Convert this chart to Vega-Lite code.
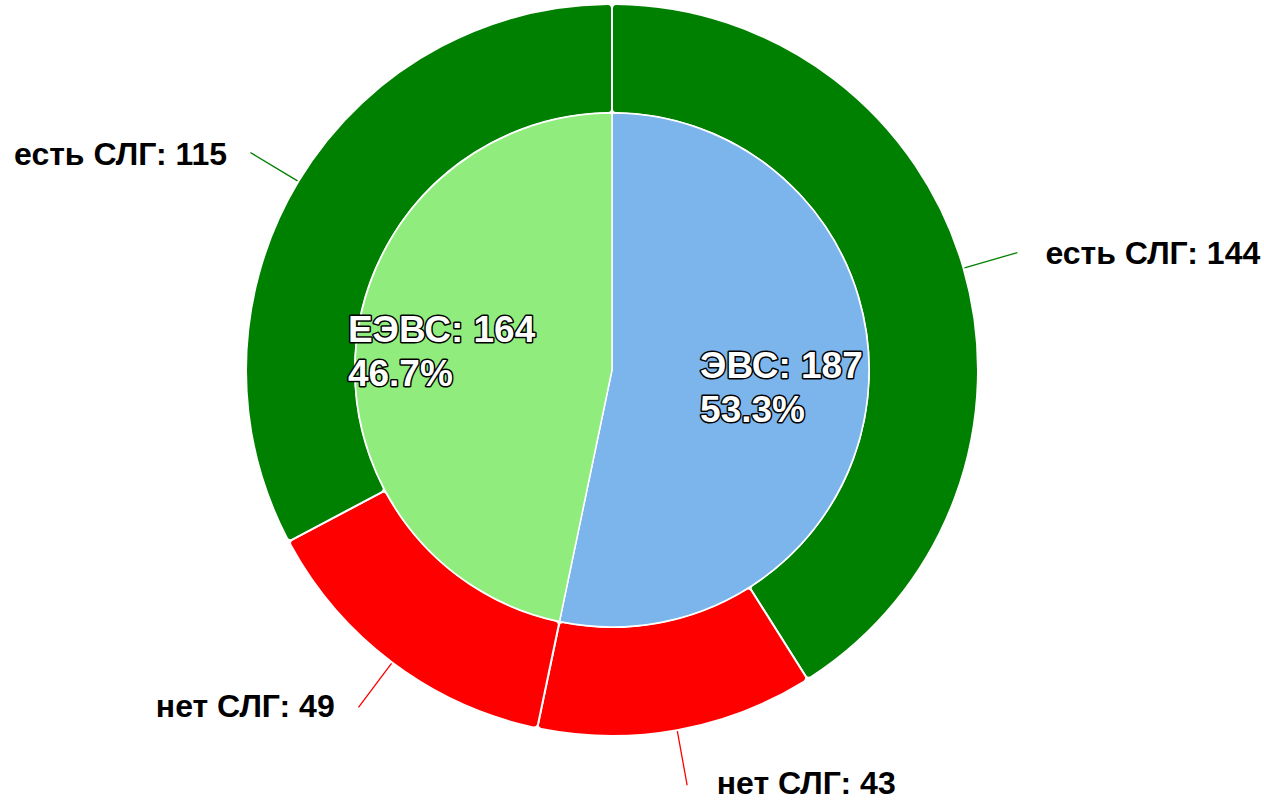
{
  "$schema": "https://vega.github.io/schema/vega-lite/v6.json",
  "width": 1224,
  "height": 740,
  "autosize": {"type": "none"},
  "padding": {"left": 0, "top": 0, "right": 40, "bottom": 62},
  "background": "white",
  "config": {"view": {"stroke": null}, "font": "Liberation Sans"},
  "datasets": {
    "inner": [
      {"cat": "ЭВС", "value": 187, "o": 1, "label": "ЭВС: 187\n53.3%"},
      {"cat": "ЕЭВС", "value": 164, "o": 2, "label": "ЕЭВС: 164\n46.7%"}
    ],
    "outer": [
      {"cat": "есть СЛГ", "parent": "ЭВС", "value": 144, "o": 1, "label": "есть СЛГ: 144"},
      {"cat": "нет СЛГ", "parent": "ЭВС", "value": 43, "o": 2, "label": "нет СЛГ: 43"},
      {"cat": "нет СЛГ", "parent": "ЕЭВС", "value": 49, "o": 3, "label": "нет СЛГ: 49"},
      {"cat": "есть СЛГ", "parent": "ЕЭВС", "value": 115, "o": 4, "label": "есть СЛГ: 115"}
    ]
  },
  "encoding": {
    "theta": {"field": "value", "type": "quantitative", "stack": true},
    "order": {"field": "o", "type": "quantitative"},
    "color": {
      "field": "cat",
      "type": "nominal",
      "scale": {"domain": ["ЭВС", "ЕЭВС", "есть СЛГ", "нет СЛГ"], "range": ["#7cb5ec", "#90ed7d", "#008000", "#ff0000"]},
      "legend": null
    }
  },
  "layer": [
    {
      "data": {"name": "outer"},
      "mark": {"type": "arc", "innerRadius": 257, "outerRadius": 366, "stroke": "white", "strokeWidth": 2, "cornerRadius": 4}
    },
    {
      "data": {"name": "inner"},
      "mark": {"type": "arc", "innerRadius": 0, "outerRadius": 257, "stroke": "white", "strokeWidth": 1.5}
    },
    {
      "data": {"name": "outer"},
      "mark": {"type": "arc", "innerRadius": 367, "outerRadius": 422, "padAngle": 2, "filled": false, "strokeWidth": 1.3}
    },
    {
      "data": {"name": "outer"},
      "mark": {
        "type": "text",
        "radius": 420,
        "fontSize": 32,
        "fontWeight": "bold",
        "baseline": "middle",
        "dy": 1,
        "align": {"expr": "datum['value_start'] + datum['value_end'] < 351 ? 'left' : 'right'"},
        "dx": {"expr": "datum['value_start'] + datum['value_end'] < 351 ? 30 : -25"}
      },
      "encoding": {"text": {"field": "label"}, "color": {"value": "#000000"}}
    },
    {
      "data": {"name": "inner"},
      "mark": {
        "type": "text",
        "radius": 172,
        "fontSize": 37,
        "fontWeight": "bold",
        "baseline": "middle",
        "align": "left",
        "dx": {"expr": "datum['value_start'] < 1 ? -83 : -93"},
        "dy": -21,
        "lineBreak": "\n",
        "lineHeight": 44,
        "stroke": "#000000",
        "strokeWidth": 3,
        "strokeJoin": "round"
      },
      "encoding": {"text": {"field": "label"}, "color": {"value": "#000000"}}
    },
    {
      "data": {"name": "inner"},
      "mark": {
        "type": "text",
        "radius": 172,
        "fontSize": 37,
        "fontWeight": "bold",
        "baseline": "middle",
        "align": "left",
        "dx": {"expr": "datum['value_start'] < 1 ? -83 : -93"},
        "dy": -21,
        "lineBreak": "\n",
        "lineHeight": 44
      },
      "encoding": {"text": {"field": "label"}, "color": {"value": "#ffffff"}}
    }
  ]
}
